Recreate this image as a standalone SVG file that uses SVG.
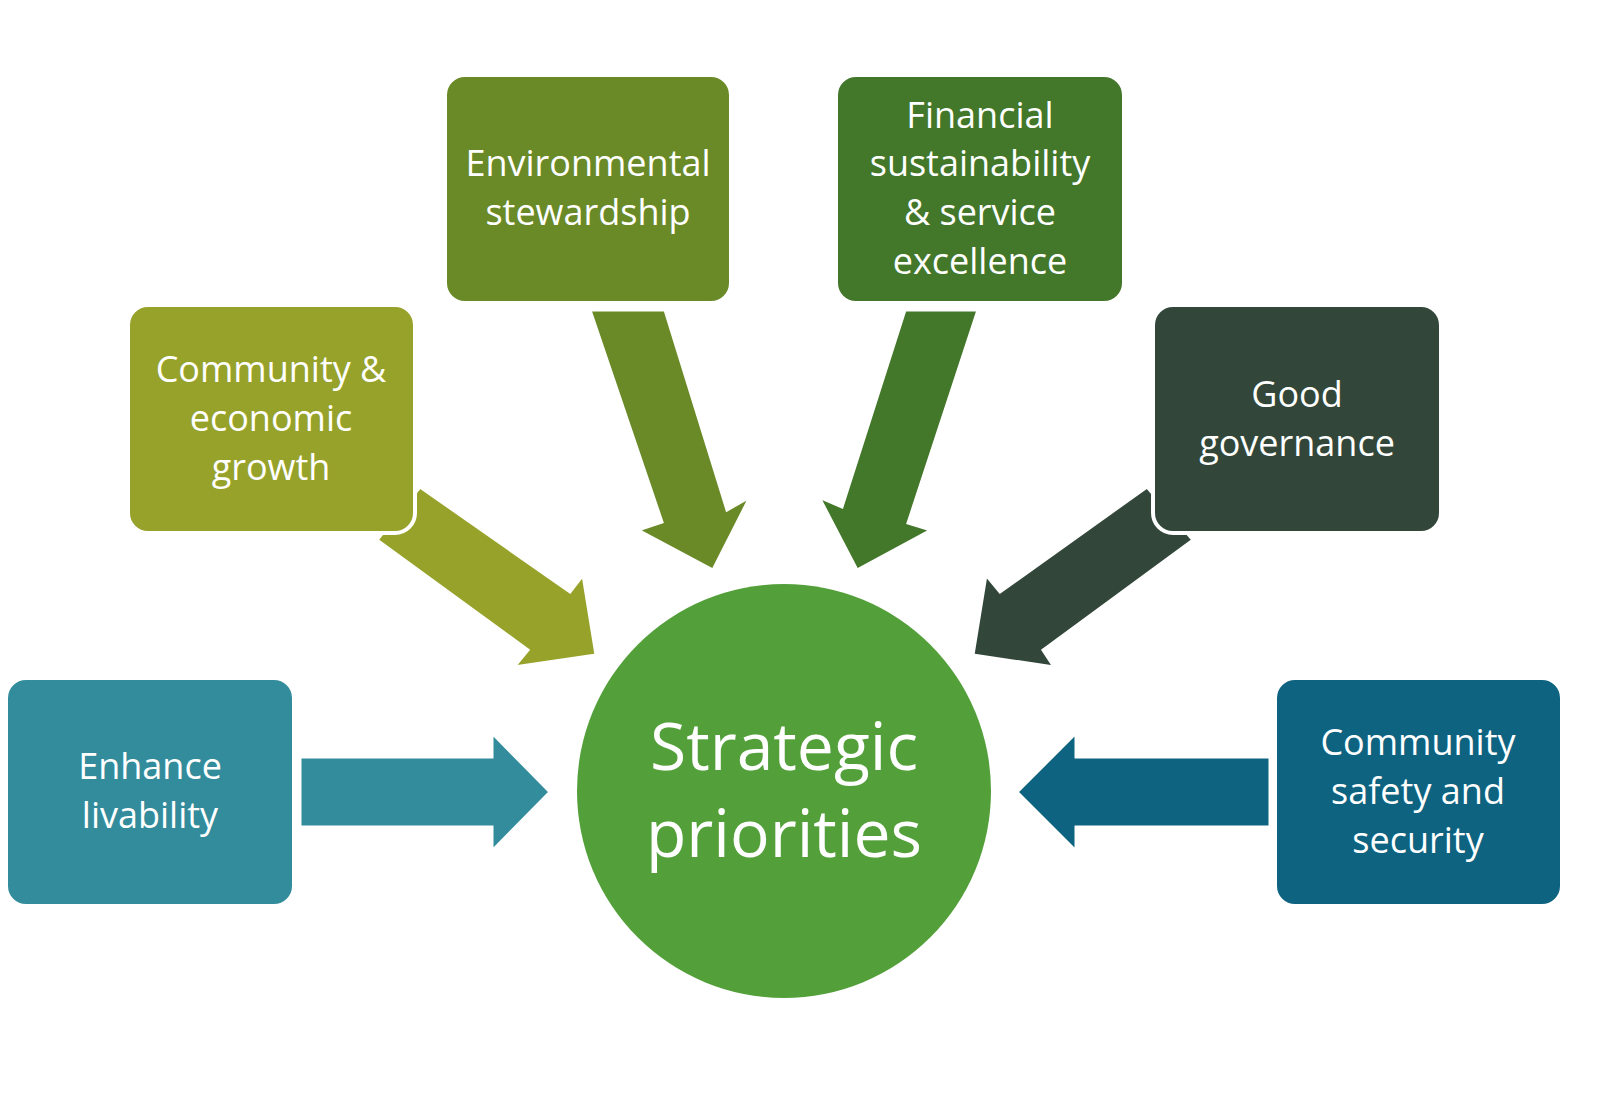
<svg xmlns="http://www.w3.org/2000/svg" width="1600" height="1095" viewBox="0 0 1600 1095">
<style>
.box{stroke:#fff;stroke-width:4}
.t{font-family:"Open Sans","Liberation Sans",sans-serif;font-size:36px;fill:#fff;text-anchor:middle}
.c{font-family:"Open Sans","Liberation Sans",sans-serif;font-size:66px;fill:#fff;text-anchor:middle}
</style>
<rect width="1600" height="1095" fill="#fff"/>
<g id="connectors" stroke="#fff" stroke-width="3">
<polygon fill="#338c9c" points="300,757 492,757 492,733 550,792 492,851 492,827 300,827"/>
<polygon fill="#0e6381" points="1270,757 1076,757 1076,733 1017,792 1076,851 1076,827 1270,827"/>
<polygon fill="#97a22a" points="420,487 570,592 583,575 596,655 514,667 528,650 377,540"/>
<polygon fill="#6a8a28" points="590,310 665,310 727,510 750,497 713,570 638,530 662,522"/>
<polygon fill="#43772a" points="905,310 978,310 908,523 931,530 857,570 819,497 842,507"/>
<polygon fill="#32473a" points="1147,487 1193,540 1043,650 1054,667 973,655 986,575 1000,592"/>
</g>
<g id="center"><circle cx="784" cy="791" r="207" fill="#53a03a"/>
<text class="c" x="784" y="770">Strategic</text><text class="c" x="784" y="857">priorities</text></g>
<g id="n1"><rect class="box" x="6" y="678" width="288" height="228" rx="20" fill="#338c9c"/>
<text class="t" x="150" y="779">Enhance</text><text class="t" x="150" y="828">livability</text></g>
<g id="n2"><rect class="box" x="128" y="305" width="287" height="228" rx="20" fill="#97a22a"/>
<text class="t" x="271" y="382">Community &amp;</text><text class="t" x="271" y="431">economic</text><text class="t" x="271" y="480">growth</text></g>
<g id="n3"><rect class="box" x="445" y="75" width="286" height="228" rx="20" fill="#6a8a28"/>
<text class="t" x="588" y="176">Environmental</text><text class="t" x="588" y="225">stewardship</text></g>
<g id="n4"><rect class="box" x="836" y="75" width="288" height="228" rx="20" fill="#43772a"/>
<text class="t" x="980" y="128">Financial</text><text class="t" x="980" y="176">sustainability</text><text class="t" x="980" y="225">&amp; service</text><text class="t" x="980" y="274">excellence</text></g>
<g id="n5"><rect class="box" x="1153" y="305" width="288" height="228" rx="20" fill="#32473a"/>
<text class="t" x="1297" y="407">Good</text><text class="t" x="1297" y="456">governance</text></g>
<g id="n6"><rect class="box" x="1275" y="678" width="287" height="228" rx="20" fill="#0e6381"/>
<text class="t" x="1418" y="755">Community</text><text class="t" x="1418" y="804">safety and</text><text class="t" x="1418" y="853">security</text></g>
</svg>
